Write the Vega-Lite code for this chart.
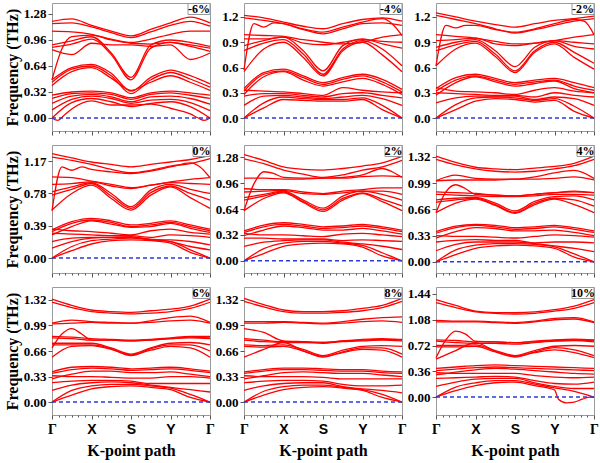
{
"$schema":"https://vega.github.io/schema/vega-lite/v6.json",
"padding":{"left":3,"top":1,"right":3,"bottom":2},
"background":"white",
"config":{
 "view":{"stroke":"#9a9a9a","strokeWidth":1},
 "axis":{"domain":false,"grid":false,"labelOverlap":false,"tickColor":"#555","labelColor":"#000","labelFont":"Liberation Serif","labelFontWeight":"bold","labelFontSize":13,"titleFont":"Liberation Serif","titleFontWeight":"bold","titleFontSize":16,"titleColor":"#000","labelPadding":2,"tickSize":4}
},
"datasets":{"d":[
{"p":1,"b":1,"x":0,"f":1.19},{"p":1,"b":1,"x":0.5,"f":1.22},{"p":1,"b":1,"x":1,"f":1.14},{"p":1,"b":1,"x":1.5,"f":1.07},{"p":1,"b":1,"x":2,"f":1.01},{"p":1,"b":1,"x":2.5,"f":1.09},{"p":1,"b":1,"x":3,"f":1.17},{"p":1,"b":1,"x":3.5,"f":1.24},{"p":1,"b":1,"x":4,"f":1.17},
{"p":1,"b":2,"x":0,"f":1.16},{"p":1,"b":2,"x":0.5,"f":1.17},{"p":1,"b":2,"x":1,"f":1.12},{"p":1,"b":2,"x":1.5,"f":1.05},{"p":1,"b":2,"x":2,"f":0.99},{"p":1,"b":2,"x":2.5,"f":1.06},{"p":1,"b":2,"x":3,"f":1.14},{"p":1,"b":2,"x":3.5,"f":1.19},{"p":1,"b":2,"x":4,"f":1.13},
{"p":1,"b":3,"x":0,"f":1.07},{"p":1,"b":3,"x":0.5,"f":1.06},{"p":1,"b":3,"x":1,"f":1.03},{"p":1,"b":3,"x":1.5,"f":0.97},{"p":1,"b":3,"x":2,"f":0.93},{"p":1,"b":3,"x":2.5,"f":0.97},{"p":1,"b":3,"x":3,"f":1.03},{"p":1,"b":3,"x":3.5,"f":1.07},{"p":1,"b":3,"x":4,"f":1.07},
{"p":1,"b":4,"x":0,"f":0.47},{"p":1,"b":4,"x":0.25,"f":0.85},{"p":1,"b":4,"x":0.5,"f":1.0},{"p":1,"b":4,"x":1,"f":1.02},{"p":1,"b":4,"x":1.5,"f":0.96},{"p":1,"b":4,"x":2,"f":0.92},{"p":1,"b":4,"x":2.5,"f":0.91},{"p":1,"b":4,"x":3,"f":0.93},{"p":1,"b":4,"x":3.5,"f":0.9},{"p":1,"b":4,"x":4,"f":0.86},
{"p":1,"b":5,"x":0,"f":0.9},{"p":1,"b":5,"x":0.5,"f":0.95},{"p":1,"b":5,"x":1,"f":1.0},{"p":1,"b":5,"x":1.5,"f":0.8},{"p":1,"b":5,"x":2,"f":0.5},{"p":1,"b":5,"x":2.5,"f":0.9},{"p":1,"b":5,"x":3,"f":0.96},{"p":1,"b":5,"x":3.5,"f":0.93},{"p":1,"b":5,"x":4,"f":0.88},
{"p":1,"b":6,"x":0,"f":0.87},{"p":1,"b":6,"x":0.5,"f":0.91},{"p":1,"b":6,"x":1,"f":0.97},{"p":1,"b":6,"x":1.5,"f":0.78},{"p":1,"b":6,"x":2,"f":0.47},{"p":1,"b":6,"x":2.5,"f":0.86},{"p":1,"b":6,"x":3,"f":0.93},{"p":1,"b":6,"x":3.5,"f":0.88},{"p":1,"b":6,"x":4,"f":0.82},
{"p":1,"b":7,"x":0,"f":0.84},{"p":1,"b":7,"x":0.5,"f":0.78},{"p":1,"b":7,"x":1,"f":0.92},{"p":1,"b":7,"x":1.5,"f":0.9},{"p":1,"b":7,"x":2,"f":0.9},{"p":1,"b":7,"x":2.5,"f":0.88},{"p":1,"b":7,"x":3,"f":0.9},{"p":1,"b":7,"x":3.5,"f":0.72},{"p":1,"b":7,"x":4,"f":0.8},
{"p":1,"b":8,"x":0,"f":0.47},{"p":1,"b":8,"x":0.5,"f":0.62},{"p":1,"b":8,"x":1,"f":0.66},{"p":1,"b":8,"x":1.5,"f":0.55},{"p":1,"b":8,"x":2,"f":0.33},{"p":1,"b":8,"x":2.5,"f":0.5},{"p":1,"b":8,"x":3,"f":0.59},{"p":1,"b":8,"x":3.5,"f":0.52},{"p":1,"b":8,"x":4,"f":0.42},
{"p":1,"b":9,"x":0,"f":0.44},{"p":1,"b":9,"x":0.5,"f":0.6},{"p":1,"b":9,"x":1,"f":0.64},{"p":1,"b":9,"x":1.5,"f":0.52},{"p":1,"b":9,"x":2,"f":0.3},{"p":1,"b":9,"x":2.5,"f":0.47},{"p":1,"b":9,"x":3,"f":0.56},{"p":1,"b":9,"x":3.5,"f":0.48},{"p":1,"b":9,"x":4,"f":0.38},
{"p":1,"b":10,"x":0,"f":0.4},{"p":1,"b":10,"x":0.5,"f":0.57},{"p":1,"b":10,"x":1,"f":0.62},{"p":1,"b":10,"x":1.5,"f":0.49},{"p":1,"b":10,"x":2,"f":0.34},{"p":1,"b":10,"x":2.5,"f":0.44},{"p":1,"b":10,"x":3,"f":0.52},{"p":1,"b":10,"x":3.5,"f":0.44},{"p":1,"b":10,"x":4,"f":0.34},
{"p":1,"b":11,"x":0,"f":0.28},{"p":1,"b":11,"x":0.5,"f":0.32},{"p":1,"b":11,"x":1,"f":0.33},{"p":1,"b":11,"x":1.5,"f":0.31},{"p":1,"b":11,"x":2,"f":0.25},{"p":1,"b":11,"x":2.5,"f":0.31},{"p":1,"b":11,"x":3,"f":0.33},{"p":1,"b":11,"x":3.5,"f":0.31},{"p":1,"b":11,"x":4,"f":0.28},
{"p":1,"b":12,"x":0,"f":0.24},{"p":1,"b":12,"x":0.5,"f":0.3},{"p":1,"b":12,"x":1,"f":0.31},{"p":1,"b":12,"x":1.5,"f":0.29},{"p":1,"b":12,"x":2,"f":0.23},{"p":1,"b":12,"x":2.5,"f":0.29},{"p":1,"b":12,"x":3,"f":0.31},{"p":1,"b":12,"x":3.5,"f":0.28},{"p":1,"b":12,"x":4,"f":0.24},
{"p":1,"b":13,"x":0,"f":0.18},{"p":1,"b":13,"x":0.5,"f":0.27},{"p":1,"b":13,"x":1,"f":0.29},{"p":1,"b":13,"x":1.5,"f":0.26},{"p":1,"b":13,"x":2,"f":0.2},{"p":1,"b":13,"x":2.5,"f":0.26},{"p":1,"b":13,"x":3,"f":0.27},{"p":1,"b":13,"x":3.5,"f":0.24},{"p":1,"b":13,"x":4,"f":0.17},
{"p":1,"b":14,"x":0,"f":0.1},{"p":1,"b":14,"x":0.5,"f":0.23},{"p":1,"b":14,"x":1,"f":0.27},{"p":1,"b":14,"x":1.5,"f":0.24},{"p":1,"b":14,"x":2,"f":0.18},{"p":1,"b":14,"x":2.5,"f":0.22},{"p":1,"b":14,"x":3,"f":0.23},{"p":1,"b":14,"x":3.5,"f":0.19},{"p":1,"b":14,"x":4,"f":0.09},
{"p":1,"b":15,"x":0,"f":0},{"p":1,"b":15,"x":0.5,"f":0.19},{"p":1,"b":15,"x":1,"f":0.24},{"p":1,"b":15,"x":1.5,"f":0.2},{"p":1,"b":15,"x":2,"f":0.14},{"p":1,"b":15,"x":2.5,"f":0.18},{"p":1,"b":15,"x":3,"f":0.2},{"p":1,"b":15,"x":3.5,"f":0.14},{"p":1,"b":15,"x":4,"f":0},
{"p":1,"b":16,"x":0,"f":0},{"p":1,"b":16,"x":0.15,"f":-0.03},{"p":1,"b":16,"x":0.3,"f":0.03},{"p":1,"b":16,"x":0.5,"f":0.11},{"p":1,"b":16,"x":1,"f":0.21},{"p":1,"b":16,"x":1.5,"f":0.16},{"p":1,"b":16,"x":2,"f":0.16},{"p":1,"b":16,"x":2.5,"f":0.17},{"p":1,"b":16,"x":3,"f":0.12},{"p":1,"b":16,"x":3.5,"f":0.05},{"p":1,"b":16,"x":3.7,"f":0},{"p":1,"b":16,"x":3.85,"f":-0.03},{"p":1,"b":16,"x":4,"f":0},

{"p":2,"b":1,"x":0,"f":1.22},{"p":2,"b":1,"x":0.5,"f":1.19},{"p":2,"b":1,"x":1,"f":1.14},{"p":2,"b":1,"x":1.5,"f":1.09},{"p":2,"b":1,"x":2,"f":1.06},{"p":2,"b":1,"x":2.5,"f":1.12},{"p":2,"b":1,"x":3,"f":1.17},{"p":2,"b":1,"x":3.5,"f":1.19},{"p":2,"b":1,"x":4,"f":1.15},
{"p":2,"b":2,"x":0,"f":1.19},{"p":2,"b":2,"x":0.5,"f":1.16},{"p":2,"b":2,"x":1,"f":1.12},{"p":2,"b":2,"x":1.5,"f":1.05},{"p":2,"b":2,"x":2,"f":1.0},{"p":2,"b":2,"x":2.5,"f":1.06},{"p":2,"b":2,"x":3,"f":1.12},{"p":2,"b":2,"x":3.5,"f":1.13},{"p":2,"b":2,"x":4,"f":1.1},
{"p":2,"b":3,"x":0,"f":0.57},{"p":2,"b":3,"x":0.25,"f":1.12},{"p":2,"b":3,"x":0.5,"f":1.08},{"p":2,"b":3,"x":0.75,"f":1.13},{"p":2,"b":3,"x":1,"f":1.12},{"p":2,"b":3,"x":1.5,"f":1.06},{"p":2,"b":3,"x":2,"f":1.02},{"p":2,"b":3,"x":2.5,"f":1.08},{"p":2,"b":3,"x":3,"f":1.14},{"p":2,"b":3,"x":3.5,"f":1.18},{"p":2,"b":3,"x":3.75,"f":1.12},{"p":2,"b":3,"x":4,"f":0.98},
{"p":2,"b":4,"x":0,"f":0.99},{"p":2,"b":4,"x":0.5,"f":0.98},{"p":2,"b":4,"x":1,"f":0.97},{"p":2,"b":4,"x":1.5,"f":0.93},{"p":2,"b":4,"x":2,"f":0.9},{"p":2,"b":4,"x":2.5,"f":0.88},{"p":2,"b":4,"x":3,"f":0.9},{"p":2,"b":4,"x":3.5,"f":0.96},{"p":2,"b":4,"x":4,"f":0.99},
{"p":2,"b":5,"x":0,"f":0.94},{"p":2,"b":5,"x":0.5,"f":0.94},{"p":2,"b":5,"x":1,"f":0.96},{"p":2,"b":5,"x":1.5,"f":0.89},{"p":2,"b":5,"x":2,"f":0.87},{"p":2,"b":5,"x":2.5,"f":0.9},{"p":2,"b":5,"x":3,"f":0.93},{"p":2,"b":5,"x":3.5,"f":0.91},{"p":2,"b":5,"x":4,"f":0.9},
{"p":2,"b":6,"x":0,"f":0.86},{"p":2,"b":6,"x":0.5,"f":0.92},{"p":2,"b":6,"x":1,"f":0.96},{"p":2,"b":6,"x":1.5,"f":0.8},{"p":2,"b":6,"x":2,"f":0.56},{"p":2,"b":6,"x":2.5,"f":0.86},{"p":2,"b":6,"x":3,"f":0.94},{"p":2,"b":6,"x":3.5,"f":0.88},{"p":2,"b":6,"x":4,"f":0.83},
{"p":2,"b":7,"x":0,"f":0.8},{"p":2,"b":7,"x":0.5,"f":0.89},{"p":2,"b":7,"x":1,"f":0.93},{"p":2,"b":7,"x":1.5,"f":0.76},{"p":2,"b":7,"x":2,"f":0.52},{"p":2,"b":7,"x":2.5,"f":0.82},{"p":2,"b":7,"x":3,"f":0.92},{"p":2,"b":7,"x":3.5,"f":0.82},{"p":2,"b":7,"x":4,"f":0.62},
{"p":2,"b":8,"x":0,"f":0.55},{"p":2,"b":8,"x":0.5,"f":0.82},{"p":2,"b":8,"x":1,"f":0.9},{"p":2,"b":8,"x":1.5,"f":0.72},{"p":2,"b":8,"x":2,"f":0.5},{"p":2,"b":8,"x":2.5,"f":0.8},{"p":2,"b":8,"x":3,"f":0.9},{"p":2,"b":8,"x":3.5,"f":0.75},{"p":2,"b":8,"x":4,"f":0.55},
{"p":2,"b":9,"x":0,"f":0.35},{"p":2,"b":9,"x":0.5,"f":0.54},{"p":2,"b":9,"x":1,"f":0.58},{"p":2,"b":9,"x":1.5,"f":0.5},{"p":2,"b":9,"x":2,"f":0.42},{"p":2,"b":9,"x":2.5,"f":0.48},{"p":2,"b":9,"x":3,"f":0.52},{"p":2,"b":9,"x":3.5,"f":0.46},{"p":2,"b":9,"x":4,"f":0.34},
{"p":2,"b":10,"x":0,"f":0.32},{"p":2,"b":10,"x":0.5,"f":0.52},{"p":2,"b":10,"x":1,"f":0.56},{"p":2,"b":10,"x":1.5,"f":0.48},{"p":2,"b":10,"x":2,"f":0.4},{"p":2,"b":10,"x":2.5,"f":0.46},{"p":2,"b":10,"x":3,"f":0.5},{"p":2,"b":10,"x":3.5,"f":0.43},{"p":2,"b":10,"x":4,"f":0.31},
{"p":2,"b":11,"x":0,"f":0.28},{"p":2,"b":11,"x":0.5,"f":0.49},{"p":2,"b":11,"x":1,"f":0.55},{"p":2,"b":11,"x":1.5,"f":0.45},{"p":2,"b":11,"x":2,"f":0.38},{"p":2,"b":11,"x":2.5,"f":0.43},{"p":2,"b":11,"x":3,"f":0.47},{"p":2,"b":11,"x":3.5,"f":0.4},{"p":2,"b":11,"x":4,"f":0.28},
{"p":2,"b":12,"x":0,"f":0.33},{"p":2,"b":12,"x":0.5,"f":0.32},{"p":2,"b":12,"x":1,"f":0.31},{"p":2,"b":12,"x":1.5,"f":0.29},{"p":2,"b":12,"x":2,"f":0.27},{"p":2,"b":12,"x":2.5,"f":0.36},{"p":2,"b":12,"x":3,"f":0.33},{"p":2,"b":12,"x":3.5,"f":0.31},{"p":2,"b":12,"x":4,"f":0.3},
{"p":2,"b":13,"x":0,"f":0.26},{"p":2,"b":13,"x":0.5,"f":0.29},{"p":2,"b":13,"x":1,"f":0.29},{"p":2,"b":13,"x":1.5,"f":0.27},{"p":2,"b":13,"x":2,"f":0.25},{"p":2,"b":13,"x":2.5,"f":0.29},{"p":2,"b":13,"x":3,"f":0.3},{"p":2,"b":13,"x":3.5,"f":0.27},{"p":2,"b":13,"x":4,"f":0.24},
{"p":2,"b":14,"x":0,"f":0.15},{"p":2,"b":14,"x":0.5,"f":0.26},{"p":2,"b":14,"x":1,"f":0.27},{"p":2,"b":14,"x":1.5,"f":0.25},{"p":2,"b":14,"x":2,"f":0.23},{"p":2,"b":14,"x":2.5,"f":0.25},{"p":2,"b":14,"x":3,"f":0.27},{"p":2,"b":14,"x":3.5,"f":0.23},{"p":2,"b":14,"x":4,"f":0.15},
{"p":2,"b":15,"x":0,"f":0},{"p":2,"b":15,"x":0.5,"f":0.18},{"p":2,"b":15,"x":1,"f":0.25},{"p":2,"b":15,"x":1.5,"f":0.23},{"p":2,"b":15,"x":2,"f":0.22},{"p":2,"b":15,"x":2.5,"f":0.22},{"p":2,"b":15,"x":3,"f":0.24},{"p":2,"b":15,"x":3.5,"f":0.15},{"p":2,"b":15,"x":4,"f":0},
{"p":2,"b":16,"x":0,"f":0},{"p":2,"b":16,"x":0.5,"f":0.12},{"p":2,"b":16,"x":1,"f":0.22},{"p":2,"b":16,"x":1.5,"f":0.21},{"p":2,"b":16,"x":2,"f":0.2},{"p":2,"b":16,"x":2.5,"f":0.2},{"p":2,"b":16,"x":3,"f":0.22},{"p":2,"b":16,"x":3.5,"f":0.1},{"p":2,"b":16,"x":4,"f":0},

{"p":3,"b":1,"x":0,"f":1.25},{"p":3,"b":1,"x":0.5,"f":1.2},{"p":3,"b":1,"x":1,"f":1.15},{"p":3,"b":1,"x":1.5,"f":1.11},{"p":3,"b":1,"x":2,"f":1.08},{"p":3,"b":1,"x":2.5,"f":1.12},{"p":3,"b":1,"x":3,"f":1.16},{"p":3,"b":1,"x":3.5,"f":1.18},{"p":3,"b":1,"x":4,"f":1.21},
{"p":3,"b":2,"x":0,"f":1.22},{"p":3,"b":2,"x":0.5,"f":1.17},{"p":3,"b":2,"x":1,"f":1.12},{"p":3,"b":2,"x":1.5,"f":1.06},{"p":3,"b":2,"x":2,"f":1.01},{"p":3,"b":2,"x":2.5,"f":1.05},{"p":3,"b":2,"x":3,"f":1.1},{"p":3,"b":2,"x":3.5,"f":1.15},{"p":3,"b":2,"x":4,"f":1.18},
{"p":3,"b":3,"x":0,"f":0.62},{"p":3,"b":3,"x":0.25,"f":1.1},{"p":3,"b":3,"x":0.5,"f":1.07},{"p":3,"b":3,"x":0.75,"f":1.1},{"p":3,"b":3,"x":1,"f":1.1},{"p":3,"b":3,"x":1.5,"f":1.05},{"p":3,"b":3,"x":2,"f":1.02},{"p":3,"b":3,"x":2.5,"f":1.06},{"p":3,"b":3,"x":3,"f":1.12},{"p":3,"b":3,"x":3.5,"f":1.17},{"p":3,"b":3,"x":3.75,"f":1.15},{"p":3,"b":3,"x":4,"f":0.99},
{"p":3,"b":4,"x":0,"f":0.99},{"p":3,"b":4,"x":0.5,"f":0.97},{"p":3,"b":4,"x":1,"f":0.95},{"p":3,"b":4,"x":1.5,"f":0.91},{"p":3,"b":4,"x":2,"f":0.88},{"p":3,"b":4,"x":2.5,"f":0.89},{"p":3,"b":4,"x":3,"f":0.92},{"p":3,"b":4,"x":3.5,"f":0.96},{"p":3,"b":4,"x":4,"f":0.99},
{"p":3,"b":5,"x":0,"f":0.92},{"p":3,"b":5,"x":0.5,"f":0.93},{"p":3,"b":5,"x":1,"f":0.95},{"p":3,"b":5,"x":1.5,"f":0.88},{"p":3,"b":5,"x":2,"f":0.86},{"p":3,"b":5,"x":2.5,"f":0.89},{"p":3,"b":5,"x":3,"f":0.92},{"p":3,"b":5,"x":3.5,"f":0.9},{"p":3,"b":5,"x":4,"f":0.88},
{"p":3,"b":6,"x":0,"f":0.84},{"p":3,"b":6,"x":0.5,"f":0.9},{"p":3,"b":6,"x":1,"f":0.93},{"p":3,"b":6,"x":1.5,"f":0.8},{"p":3,"b":6,"x":2,"f":0.61},{"p":3,"b":6,"x":2.5,"f":0.84},{"p":3,"b":6,"x":3,"f":0.92},{"p":3,"b":6,"x":3.5,"f":0.85},{"p":3,"b":6,"x":4,"f":0.82},
{"p":3,"b":7,"x":0,"f":0.8},{"p":3,"b":7,"x":0.5,"f":0.87},{"p":3,"b":7,"x":1,"f":0.91},{"p":3,"b":7,"x":1.5,"f":0.76},{"p":3,"b":7,"x":2,"f":0.56},{"p":3,"b":7,"x":2.5,"f":0.8},{"p":3,"b":7,"x":3,"f":0.9},{"p":3,"b":7,"x":3.5,"f":0.78},{"p":3,"b":7,"x":4,"f":0.65},
{"p":3,"b":8,"x":0,"f":0.62},{"p":3,"b":8,"x":0.5,"f":0.82},{"p":3,"b":8,"x":1,"f":0.89},{"p":3,"b":8,"x":1.5,"f":0.73},{"p":3,"b":8,"x":2,"f":0.54},{"p":3,"b":8,"x":2.5,"f":0.78},{"p":3,"b":8,"x":3,"f":0.88},{"p":3,"b":8,"x":3.5,"f":0.72},{"p":3,"b":8,"x":4,"f":0.58},
{"p":3,"b":9,"x":0,"f":0.35},{"p":3,"b":9,"x":0.5,"f":0.48},{"p":3,"b":9,"x":1,"f":0.52},{"p":3,"b":9,"x":1.5,"f":0.47},{"p":3,"b":9,"x":2,"f":0.42},{"p":3,"b":9,"x":2.5,"f":0.45},{"p":3,"b":9,"x":3,"f":0.47},{"p":3,"b":9,"x":3.5,"f":0.42},{"p":3,"b":9,"x":4,"f":0.36},
{"p":3,"b":10,"x":0,"f":0.32},{"p":3,"b":10,"x":0.5,"f":0.45},{"p":3,"b":10,"x":1,"f":0.5},{"p":3,"b":10,"x":1.5,"f":0.45},{"p":3,"b":10,"x":2,"f":0.4},{"p":3,"b":10,"x":2.5,"f":0.43},{"p":3,"b":10,"x":3,"f":0.45},{"p":3,"b":10,"x":3.5,"f":0.38},{"p":3,"b":10,"x":4,"f":0.33},
{"p":3,"b":11,"x":0,"f":0.27},{"p":3,"b":11,"x":0.5,"f":0.42},{"p":3,"b":11,"x":1,"f":0.49},{"p":3,"b":11,"x":1.5,"f":0.43},{"p":3,"b":11,"x":2,"f":0.38},{"p":3,"b":11,"x":2.5,"f":0.41},{"p":3,"b":11,"x":3,"f":0.44},{"p":3,"b":11,"x":3.5,"f":0.35},{"p":3,"b":11,"x":4,"f":0.3},
{"p":3,"b":12,"x":0,"f":0.36},{"p":3,"b":12,"x":0.5,"f":0.32},{"p":3,"b":12,"x":1,"f":0.31},{"p":3,"b":12,"x":1.5,"f":0.3},{"p":3,"b":12,"x":2,"f":0.28},{"p":3,"b":12,"x":2.5,"f":0.33},{"p":3,"b":12,"x":3,"f":0.36},{"p":3,"b":12,"x":3.5,"f":0.32},{"p":3,"b":12,"x":4,"f":0.3},
{"p":3,"b":13,"x":0,"f":0.3},{"p":3,"b":13,"x":0.5,"f":0.29},{"p":3,"b":13,"x":1,"f":0.28},{"p":3,"b":13,"x":1.5,"f":0.27},{"p":3,"b":13,"x":2,"f":0.27},{"p":3,"b":13,"x":2.5,"f":0.25},{"p":3,"b":13,"x":3,"f":0.3},{"p":3,"b":13,"x":3.5,"f":0.27},{"p":3,"b":13,"x":4,"f":0.25},
{"p":3,"b":14,"x":0,"f":0.18},{"p":3,"b":14,"x":0.5,"f":0.24},{"p":3,"b":14,"x":1,"f":0.26},{"p":3,"b":14,"x":1.5,"f":0.26},{"p":3,"b":14,"x":2,"f":0.26},{"p":3,"b":14,"x":2.5,"f":0.22},{"p":3,"b":14,"x":3,"f":0.25},{"p":3,"b":14,"x":3.5,"f":0.23},{"p":3,"b":14,"x":4,"f":0.15},
{"p":3,"b":15,"x":0,"f":0},{"p":3,"b":15,"x":0.5,"f":0.16},{"p":3,"b":15,"x":1,"f":0.24},{"p":3,"b":15,"x":1.5,"f":0.25},{"p":3,"b":15,"x":2,"f":0.24},{"p":3,"b":15,"x":2.5,"f":0.21},{"p":3,"b":15,"x":3,"f":0.23},{"p":3,"b":15,"x":3.5,"f":0.14},{"p":3,"b":15,"x":4,"f":0},
{"p":3,"b":16,"x":0,"f":0},{"p":3,"b":16,"x":0.5,"f":0.1},{"p":3,"b":16,"x":1,"f":0.2},{"p":3,"b":16,"x":1.5,"f":0.23},{"p":3,"b":16,"x":2,"f":0.22},{"p":3,"b":16,"x":2.5,"f":0.19},{"p":3,"b":16,"x":3,"f":0.21},{"p":3,"b":16,"x":3.5,"f":0.08},{"p":3,"b":16,"x":4,"f":0},

{"p":4,"b":1,"x":0,"f":1.26},{"p":4,"b":1,"x":0.5,"f":1.21},{"p":4,"b":1,"x":1,"f":1.16},{"p":4,"b":1,"x":1.5,"f":1.13},{"p":4,"b":1,"x":2,"f":1.1},{"p":4,"b":1,"x":2.5,"f":1.13},{"p":4,"b":1,"x":3,"f":1.16},{"p":4,"b":1,"x":3.5,"f":1.19},{"p":4,"b":1,"x":4,"f":1.24},
{"p":4,"b":2,"x":0,"f":1.22},{"p":4,"b":2,"x":0.5,"f":1.18},{"p":4,"b":2,"x":1,"f":1.13},{"p":4,"b":2,"x":1.5,"f":1.07},{"p":4,"b":2,"x":2,"f":1.03},{"p":4,"b":2,"x":2.5,"f":1.06},{"p":4,"b":2,"x":3,"f":1.11},{"p":4,"b":2,"x":3.5,"f":1.14},{"p":4,"b":2,"x":4,"f":1.2},
{"p":4,"b":3,"x":0,"f":0.57},{"p":4,"b":3,"x":0.25,"f":1.1},{"p":4,"b":3,"x":0.5,"f":1.06},{"p":4,"b":3,"x":0.75,"f":1.1},{"p":4,"b":3,"x":1,"f":1.07},{"p":4,"b":3,"x":1.5,"f":1.04},{"p":4,"b":3,"x":2,"f":1.02},{"p":4,"b":3,"x":2.5,"f":1.05},{"p":4,"b":3,"x":3,"f":1.1},{"p":4,"b":3,"x":3.5,"f":1.15},{"p":4,"b":3,"x":3.75,"f":1.1},{"p":4,"b":3,"x":4,"f":0.97},
{"p":4,"b":4,"x":0,"f":0.98},{"p":4,"b":4,"x":0.5,"f":0.97},{"p":4,"b":4,"x":1,"f":0.93},{"p":4,"b":4,"x":1.5,"f":0.89},{"p":4,"b":4,"x":2,"f":0.85},{"p":4,"b":4,"x":2.5,"f":0.88},{"p":4,"b":4,"x":3,"f":0.92},{"p":4,"b":4,"x":3.5,"f":0.95},{"p":4,"b":4,"x":4,"f":0.97},
{"p":4,"b":5,"x":0,"f":0.89},{"p":4,"b":5,"x":0.5,"f":0.9},{"p":4,"b":5,"x":1,"f":0.92},{"p":4,"b":5,"x":1.5,"f":0.87},{"p":4,"b":5,"x":2,"f":0.84},{"p":4,"b":5,"x":2.5,"f":0.88},{"p":4,"b":5,"x":3,"f":0.91},{"p":4,"b":5,"x":3.5,"f":0.9},{"p":4,"b":5,"x":4,"f":0.89},
{"p":4,"b":6,"x":0,"f":0.8},{"p":4,"b":6,"x":0.5,"f":0.86},{"p":4,"b":6,"x":1,"f":0.91},{"p":4,"b":6,"x":1.5,"f":0.78},{"p":4,"b":6,"x":2,"f":0.62},{"p":4,"b":6,"x":2.5,"f":0.82},{"p":4,"b":6,"x":3,"f":0.89},{"p":4,"b":6,"x":3.5,"f":0.83},{"p":4,"b":6,"x":4,"f":0.78},
{"p":4,"b":7,"x":0,"f":0.76},{"p":4,"b":7,"x":0.5,"f":0.83},{"p":4,"b":7,"x":1,"f":0.9},{"p":4,"b":7,"x":1.5,"f":0.75},{"p":4,"b":7,"x":2,"f":0.6},{"p":4,"b":7,"x":2.5,"f":0.79},{"p":4,"b":7,"x":3,"f":0.87},{"p":4,"b":7,"x":3.5,"f":0.78},{"p":4,"b":7,"x":4,"f":0.7},
{"p":4,"b":8,"x":0,"f":0.58},{"p":4,"b":8,"x":0.5,"f":0.78},{"p":4,"b":8,"x":1,"f":0.88},{"p":4,"b":8,"x":1.5,"f":0.72},{"p":4,"b":8,"x":2,"f":0.58},{"p":4,"b":8,"x":2.5,"f":0.76},{"p":4,"b":8,"x":3,"f":0.86},{"p":4,"b":8,"x":3.5,"f":0.73},{"p":4,"b":8,"x":4,"f":0.6},
{"p":4,"b":9,"x":0,"f":0.34},{"p":4,"b":9,"x":0.5,"f":0.44},{"p":4,"b":9,"x":1,"f":0.48},{"p":4,"b":9,"x":1.5,"f":0.45},{"p":4,"b":9,"x":2,"f":0.4},{"p":4,"b":9,"x":2.5,"f":0.42},{"p":4,"b":9,"x":3,"f":0.45},{"p":4,"b":9,"x":3.5,"f":0.4},{"p":4,"b":9,"x":4,"f":0.35},
{"p":4,"b":10,"x":0,"f":0.32},{"p":4,"b":10,"x":0.5,"f":0.42},{"p":4,"b":10,"x":1,"f":0.46},{"p":4,"b":10,"x":1.5,"f":0.43},{"p":4,"b":10,"x":2,"f":0.38},{"p":4,"b":10,"x":2.5,"f":0.4},{"p":4,"b":10,"x":3,"f":0.43},{"p":4,"b":10,"x":3.5,"f":0.38},{"p":4,"b":10,"x":4,"f":0.33},
{"p":4,"b":11,"x":0,"f":0.28},{"p":4,"b":11,"x":0.5,"f":0.38},{"p":4,"b":11,"x":1,"f":0.45},{"p":4,"b":11,"x":1.5,"f":0.41},{"p":4,"b":11,"x":2,"f":0.37},{"p":4,"b":11,"x":2.5,"f":0.38},{"p":4,"b":11,"x":3,"f":0.42},{"p":4,"b":11,"x":3.5,"f":0.36},{"p":4,"b":11,"x":4,"f":0.31},
{"p":4,"b":12,"x":0,"f":0.35},{"p":4,"b":12,"x":0.5,"f":0.33},{"p":4,"b":12,"x":1,"f":0.32},{"p":4,"b":12,"x":1.5,"f":0.3},{"p":4,"b":12,"x":2,"f":0.28},{"p":4,"b":12,"x":2.5,"f":0.33},{"p":4,"b":12,"x":3,"f":0.35},{"p":4,"b":12,"x":3.5,"f":0.31},{"p":4,"b":12,"x":4,"f":0.29},
{"p":4,"b":13,"x":0,"f":0.3},{"p":4,"b":13,"x":0.5,"f":0.29},{"p":4,"b":13,"x":1,"f":0.28},{"p":4,"b":13,"x":1.5,"f":0.27},{"p":4,"b":13,"x":2,"f":0.27},{"p":4,"b":13,"x":2.5,"f":0.25},{"p":4,"b":13,"x":3,"f":0.28},{"p":4,"b":13,"x":3.5,"f":0.27},{"p":4,"b":13,"x":4,"f":0.25},
{"p":4,"b":14,"x":0,"f":0.2},{"p":4,"b":14,"x":0.5,"f":0.24},{"p":4,"b":14,"x":1,"f":0.25},{"p":4,"b":14,"x":1.5,"f":0.25},{"p":4,"b":14,"x":2,"f":0.26},{"p":4,"b":14,"x":2.5,"f":0.22},{"p":4,"b":14,"x":3,"f":0.22},{"p":4,"b":14,"x":3.5,"f":0.2},{"p":4,"b":14,"x":4,"f":0.16},
{"p":4,"b":15,"x":0,"f":0.12},{"p":4,"b":15,"x":0.5,"f":0.2},{"p":4,"b":15,"x":1,"f":0.24},{"p":4,"b":15,"x":1.5,"f":0.25},{"p":4,"b":15,"x":2,"f":0.25},{"p":4,"b":15,"x":2.5,"f":0.23},{"p":4,"b":15,"x":3,"f":0.2},{"p":4,"b":15,"x":3.5,"f":0.14},{"p":4,"b":15,"x":4,"f":0.1},
{"p":4,"b":16,"x":0,"f":0},{"p":4,"b":16,"x":0.5,"f":0.14},{"p":4,"b":16,"x":1,"f":0.21},{"p":4,"b":16,"x":1.5,"f":0.23},{"p":4,"b":16,"x":2,"f":0.24},{"p":4,"b":16,"x":2.5,"f":0.22},{"p":4,"b":16,"x":3,"f":0.2},{"p":4,"b":16,"x":3.5,"f":0.1},{"p":4,"b":16,"x":4,"f":0},
{"p":4,"b":17,"x":0,"f":0},{"p":4,"b":17,"x":0.5,"f":0.09},{"p":4,"b":17,"x":1,"f":0.17},{"p":4,"b":17,"x":1.5,"f":0.21},{"p":4,"b":17,"x":2,"f":0.22},{"p":4,"b":17,"x":2.5,"f":0.21},{"p":4,"b":17,"x":3,"f":0.18},{"p":4,"b":17,"x":3.5,"f":0.07},{"p":4,"b":17,"x":4,"f":0},

{"p":5,"b":1,"x":0,"f":1.31},{"p":5,"b":1,"x":0.5,"f":1.24},{"p":5,"b":1,"x":1,"f":1.16},{"p":5,"b":1,"x":1.5,"f":1.13},{"p":5,"b":1,"x":2,"f":1.12},{"p":5,"b":1,"x":2.5,"f":1.14},{"p":5,"b":1,"x":3,"f":1.17},{"p":5,"b":1,"x":3.5,"f":1.21},{"p":5,"b":1,"x":4,"f":1.29},
{"p":5,"b":2,"x":0,"f":1.26},{"p":5,"b":2,"x":0.5,"f":1.2},{"p":5,"b":2,"x":1,"f":1.12},{"p":5,"b":2,"x":1.5,"f":1.07},{"p":5,"b":2,"x":2,"f":1.03},{"p":5,"b":2,"x":2.5,"f":1.06},{"p":5,"b":2,"x":3,"f":1.12},{"p":5,"b":2,"x":3.5,"f":1.16},{"p":5,"b":2,"x":4,"f":1.24},
{"p":5,"b":3,"x":0,"f":0.62},{"p":5,"b":3,"x":0.25,"f":0.95},{"p":5,"b":3,"x":0.5,"f":1.1},{"p":5,"b":3,"x":0.75,"f":1.08},{"p":5,"b":3,"x":1,"f":1.03},{"p":5,"b":3,"x":1.5,"f":1.02},{"p":5,"b":3,"x":2,"f":1.02},{"p":5,"b":3,"x":2.5,"f":1.03},{"p":5,"b":3,"x":3,"f":1.06},{"p":5,"b":3,"x":3.5,"f":1.14},{"p":5,"b":3,"x":3.75,"f":1.1},{"p":5,"b":3,"x":4,"f":1.03},
{"p":5,"b":4,"x":0,"f":1.02},{"p":5,"b":4,"x":0.5,"f":1.02},{"p":5,"b":4,"x":1,"f":1.01},{"p":5,"b":4,"x":1.5,"f":1.01},{"p":5,"b":4,"x":2,"f":1.02},{"p":5,"b":4,"x":2.5,"f":1.02},{"p":5,"b":4,"x":3,"f":1.04},{"p":5,"b":4,"x":3.5,"f":1.05},{"p":5,"b":4,"x":4,"f":1.04},
{"p":5,"b":5,"x":0,"f":0.89},{"p":5,"b":5,"x":0.5,"f":0.88},{"p":5,"b":5,"x":1,"f":0.88},{"p":5,"b":5,"x":1.5,"f":0.85},{"p":5,"b":5,"x":2,"f":0.83},{"p":5,"b":5,"x":2.5,"f":0.86},{"p":5,"b":5,"x":3,"f":0.88},{"p":5,"b":5,"x":3.5,"f":0.9},{"p":5,"b":5,"x":4,"f":0.9},
{"p":5,"b":6,"x":0,"f":0.85},{"p":5,"b":6,"x":0.5,"f":0.86},{"p":5,"b":6,"x":1,"f":0.87},{"p":5,"b":6,"x":1.5,"f":0.83},{"p":5,"b":6,"x":2,"f":0.82},{"p":5,"b":6,"x":2.5,"f":0.84},{"p":5,"b":6,"x":3,"f":0.86},{"p":5,"b":6,"x":3.5,"f":0.86},{"p":5,"b":6,"x":4,"f":0.82},
{"p":5,"b":7,"x":0,"f":0.78},{"p":5,"b":7,"x":0.5,"f":0.82},{"p":5,"b":7,"x":1,"f":0.86},{"p":5,"b":7,"x":1.5,"f":0.75},{"p":5,"b":7,"x":2,"f":0.65},{"p":5,"b":7,"x":2.5,"f":0.8},{"p":5,"b":7,"x":3,"f":0.86},{"p":5,"b":7,"x":3.5,"f":0.82},{"p":5,"b":7,"x":4,"f":0.75},
{"p":5,"b":8,"x":0,"f":0.75},{"p":5,"b":8,"x":0.5,"f":0.8},{"p":5,"b":8,"x":1,"f":0.85},{"p":5,"b":8,"x":1.5,"f":0.73},{"p":5,"b":8,"x":2,"f":0.63},{"p":5,"b":8,"x":2.5,"f":0.77},{"p":5,"b":8,"x":3,"f":0.84},{"p":5,"b":8,"x":3.5,"f":0.76},{"p":5,"b":8,"x":4,"f":0.68},
{"p":5,"b":9,"x":0,"f":0.62},{"p":5,"b":9,"x":0.5,"f":0.77},{"p":5,"b":9,"x":1,"f":0.84},{"p":5,"b":9,"x":1.5,"f":0.72},{"p":5,"b":9,"x":2,"f":0.61},{"p":5,"b":9,"x":2.5,"f":0.75},{"p":5,"b":9,"x":3,"f":0.83},{"p":5,"b":9,"x":3.5,"f":0.73},{"p":5,"b":9,"x":4,"f":0.62},
{"p":5,"b":10,"x":0,"f":0.37},{"p":5,"b":10,"x":0.5,"f":0.44},{"p":5,"b":10,"x":1,"f":0.47},{"p":5,"b":10,"x":1.5,"f":0.45},{"p":5,"b":10,"x":2,"f":0.42},{"p":5,"b":10,"x":2.5,"f":0.43},{"p":5,"b":10,"x":3,"f":0.45},{"p":5,"b":10,"x":3.5,"f":0.42},{"p":5,"b":10,"x":4,"f":0.38},
{"p":5,"b":11,"x":0,"f":0.35},{"p":5,"b":11,"x":0.5,"f":0.42},{"p":5,"b":11,"x":1,"f":0.45},{"p":5,"b":11,"x":1.5,"f":0.43},{"p":5,"b":11,"x":2,"f":0.4},{"p":5,"b":11,"x":2.5,"f":0.41},{"p":5,"b":11,"x":3,"f":0.43},{"p":5,"b":11,"x":3.5,"f":0.4},{"p":5,"b":11,"x":4,"f":0.36},
{"p":5,"b":12,"x":0,"f":0.31},{"p":5,"b":12,"x":0.5,"f":0.38},{"p":5,"b":12,"x":1,"f":0.43},{"p":5,"b":12,"x":1.5,"f":0.41},{"p":5,"b":12,"x":2,"f":0.38},{"p":5,"b":12,"x":2.5,"f":0.38},{"p":5,"b":12,"x":3,"f":0.4},{"p":5,"b":12,"x":3.5,"f":0.37},{"p":5,"b":12,"x":4,"f":0.33},
{"p":5,"b":13,"x":0,"f":0.34},{"p":5,"b":13,"x":0.5,"f":0.32},{"p":5,"b":13,"x":1,"f":0.32},{"p":5,"b":13,"x":1.5,"f":0.31},{"p":5,"b":13,"x":2,"f":0.3},{"p":5,"b":13,"x":2.5,"f":0.33},{"p":5,"b":13,"x":3,"f":0.34},{"p":5,"b":13,"x":3.5,"f":0.32},{"p":5,"b":13,"x":4,"f":0.3},
{"p":5,"b":14,"x":0,"f":0.28},{"p":5,"b":14,"x":0.5,"f":0.28},{"p":5,"b":14,"x":1,"f":0.27},{"p":5,"b":14,"x":1.5,"f":0.27},{"p":5,"b":14,"x":2,"f":0.27},{"p":5,"b":14,"x":2.5,"f":0.25},{"p":5,"b":14,"x":3,"f":0.26},{"p":5,"b":14,"x":3.5,"f":0.25},{"p":5,"b":14,"x":4,"f":0.24},
{"p":5,"b":15,"x":0,"f":0.18},{"p":5,"b":15,"x":0.5,"f":0.23},{"p":5,"b":15,"x":1,"f":0.25},{"p":5,"b":15,"x":1.5,"f":0.26},{"p":5,"b":15,"x":2,"f":0.26},{"p":5,"b":15,"x":2.5,"f":0.23},{"p":5,"b":15,"x":3,"f":0.21},{"p":5,"b":15,"x":3.5,"f":0.18},{"p":5,"b":15,"x":4,"f":0.14},
{"p":5,"b":16,"x":0,"f":0},{"p":5,"b":16,"x":0.5,"f":0.15},{"p":5,"b":16,"x":1,"f":0.22},{"p":5,"b":16,"x":1.5,"f":0.24},{"p":5,"b":16,"x":2,"f":0.24},{"p":5,"b":16,"x":2.5,"f":0.22},{"p":5,"b":16,"x":3,"f":0.19},{"p":5,"b":16,"x":3.5,"f":0.1},{"p":5,"b":16,"x":4,"f":0},
{"p":5,"b":17,"x":0,"f":0},{"p":5,"b":17,"x":0.5,"f":0.09},{"p":5,"b":17,"x":1,"f":0.18},{"p":5,"b":17,"x":1.5,"f":0.21},{"p":5,"b":17,"x":2,"f":0.22},{"p":5,"b":17,"x":2.5,"f":0.21},{"p":5,"b":17,"x":3,"f":0.17},{"p":5,"b":17,"x":3.5,"f":0.06},{"p":5,"b":17,"x":4,"f":0},

{"p":6,"b":1,"x":0,"f":1.33},{"p":6,"b":1,"x":0.5,"f":1.25},{"p":6,"b":1,"x":1,"f":1.19},{"p":6,"b":1,"x":1.5,"f":1.17},{"p":6,"b":1,"x":2,"f":1.16},{"p":6,"b":1,"x":2.5,"f":1.18},{"p":6,"b":1,"x":3,"f":1.2},{"p":6,"b":1,"x":3.5,"f":1.24},{"p":6,"b":1,"x":4,"f":1.33},
{"p":6,"b":2,"x":0,"f":1.29},{"p":6,"b":2,"x":0.5,"f":1.22},{"p":6,"b":2,"x":1,"f":1.17},{"p":6,"b":2,"x":1.5,"f":1.14},{"p":6,"b":2,"x":2,"f":1.13},{"p":6,"b":2,"x":2.5,"f":1.14},{"p":6,"b":2,"x":3,"f":1.17},{"p":6,"b":2,"x":3.5,"f":1.21},{"p":6,"b":2,"x":4,"f":1.29},
{"p":6,"b":3,"x":0,"f":1.02},{"p":6,"b":3,"x":0.5,"f":1.09},{"p":6,"b":3,"x":1,"f":1.05},{"p":6,"b":3,"x":1.5,"f":1.04},{"p":6,"b":3,"x":2,"f":1.04},{"p":6,"b":3,"x":2.5,"f":1.07},{"p":6,"b":3,"x":3,"f":1.12},{"p":6,"b":3,"x":3.5,"f":1.15},{"p":6,"b":3,"x":4,"f":1.05},
{"p":6,"b":4,"x":0,"f":1.02},{"p":6,"b":4,"x":0.5,"f":1.03},{"p":6,"b":4,"x":1,"f":1.03},{"p":6,"b":4,"x":1.5,"f":1.03},{"p":6,"b":4,"x":2,"f":1.04},{"p":6,"b":4,"x":2.5,"f":1.04},{"p":6,"b":4,"x":3,"f":1.05},{"p":6,"b":4,"x":3.5,"f":1.07},{"p":6,"b":4,"x":4,"f":1.03},
{"p":6,"b":5,"x":0,"f":0.62},{"p":6,"b":5,"x":0.25,"f":0.88},{"p":6,"b":5,"x":0.5,"f":0.97},{"p":6,"b":5,"x":0.75,"f":0.92},{"p":6,"b":5,"x":1,"f":0.85},{"p":6,"b":5,"x":1.5,"f":0.84},{"p":6,"b":5,"x":2,"f":0.83},{"p":6,"b":5,"x":2.5,"f":0.85},{"p":6,"b":5,"x":3,"f":0.87},{"p":6,"b":5,"x":3.5,"f":0.89},{"p":6,"b":5,"x":4,"f":0.87},
{"p":6,"b":6,"x":0,"f":0.88},{"p":6,"b":6,"x":0.5,"f":0.87},{"p":6,"b":6,"x":1,"f":0.86},{"p":6,"b":6,"x":1.5,"f":0.84},{"p":6,"b":6,"x":2,"f":0.83},{"p":6,"b":6,"x":2.5,"f":0.85},{"p":6,"b":6,"x":3,"f":0.87},{"p":6,"b":6,"x":3.5,"f":0.88},{"p":6,"b":6,"x":4,"f":0.87},
{"p":6,"b":7,"x":0,"f":0.85},{"p":6,"b":7,"x":0.5,"f":0.84},{"p":6,"b":7,"x":1,"f":0.83},{"p":6,"b":7,"x":1.5,"f":0.82},{"p":6,"b":7,"x":2,"f":0.82},{"p":6,"b":7,"x":2.5,"f":0.83},{"p":6,"b":7,"x":3,"f":0.85},{"p":6,"b":7,"x":3.5,"f":0.85},{"p":6,"b":7,"x":4,"f":0.84},
{"p":6,"b":8,"x":0,"f":0.78},{"p":6,"b":8,"x":0.5,"f":0.8},{"p":6,"b":8,"x":1,"f":0.81},{"p":6,"b":8,"x":1.5,"f":0.74},{"p":6,"b":8,"x":2,"f":0.64},{"p":6,"b":8,"x":2.5,"f":0.76},{"p":6,"b":8,"x":3,"f":0.82},{"p":6,"b":8,"x":3.5,"f":0.83},{"p":6,"b":8,"x":4,"f":0.78},
{"p":6,"b":9,"x":0,"f":0.75},{"p":6,"b":9,"x":0.5,"f":0.78},{"p":6,"b":9,"x":1,"f":0.8},{"p":6,"b":9,"x":1.5,"f":0.72},{"p":6,"b":9,"x":2,"f":0.62},{"p":6,"b":9,"x":2.5,"f":0.74},{"p":6,"b":9,"x":3,"f":0.8},{"p":6,"b":9,"x":3.5,"f":0.78},{"p":6,"b":9,"x":4,"f":0.7},
{"p":6,"b":10,"x":0,"f":0.62},{"p":6,"b":10,"x":0.5,"f":0.74},{"p":6,"b":10,"x":1,"f":0.79},{"p":6,"b":10,"x":1.5,"f":0.71},{"p":6,"b":10,"x":2,"f":0.61},{"p":6,"b":10,"x":2.5,"f":0.72},{"p":6,"b":10,"x":3,"f":0.79},{"p":6,"b":10,"x":3.5,"f":0.72},{"p":6,"b":10,"x":4,"f":0.62},
{"p":6,"b":11,"x":0,"f":0.38},{"p":6,"b":11,"x":0.5,"f":0.45},{"p":6,"b":11,"x":1,"f":0.47},{"p":6,"b":11,"x":1.5,"f":0.46},{"p":6,"b":11,"x":2,"f":0.43},{"p":6,"b":11,"x":2.5,"f":0.44},{"p":6,"b":11,"x":3,"f":0.46},{"p":6,"b":11,"x":3.5,"f":0.43},{"p":6,"b":11,"x":4,"f":0.39},
{"p":6,"b":12,"x":0,"f":0.36},{"p":6,"b":12,"x":0.5,"f":0.43},{"p":6,"b":12,"x":1,"f":0.46},{"p":6,"b":12,"x":1.5,"f":0.44},{"p":6,"b":12,"x":2,"f":0.41},{"p":6,"b":12,"x":2.5,"f":0.42},{"p":6,"b":12,"x":3,"f":0.44},{"p":6,"b":12,"x":3.5,"f":0.41},{"p":6,"b":12,"x":4,"f":0.37},
{"p":6,"b":13,"x":0,"f":0.3},{"p":6,"b":13,"x":0.5,"f":0.38},{"p":6,"b":13,"x":1,"f":0.43},{"p":6,"b":13,"x":1.5,"f":0.42},{"p":6,"b":13,"x":2,"f":0.39},{"p":6,"b":13,"x":2.5,"f":0.39},{"p":6,"b":13,"x":3,"f":0.4},{"p":6,"b":13,"x":3.5,"f":0.37},{"p":6,"b":13,"x":4,"f":0.33},
{"p":6,"b":14,"x":0,"f":0.33},{"p":6,"b":14,"x":0.5,"f":0.32},{"p":6,"b":14,"x":1,"f":0.32},{"p":6,"b":14,"x":1.5,"f":0.31},{"p":6,"b":14,"x":2,"f":0.3},{"p":6,"b":14,"x":2.5,"f":0.32},{"p":6,"b":14,"x":3,"f":0.34},{"p":6,"b":14,"x":3.5,"f":0.33},{"p":6,"b":14,"x":4,"f":0.31},
{"p":6,"b":15,"x":0,"f":0.25},{"p":6,"b":15,"x":0.5,"f":0.27},{"p":6,"b":15,"x":1,"f":0.28},{"p":6,"b":15,"x":1.5,"f":0.27},{"p":6,"b":15,"x":2,"f":0.27},{"p":6,"b":15,"x":2.5,"f":0.24},{"p":6,"b":15,"x":3,"f":0.25},{"p":6,"b":15,"x":3.5,"f":0.25},{"p":6,"b":15,"x":4,"f":0.24},
{"p":6,"b":16,"x":0,"f":0.14},{"p":6,"b":16,"x":0.5,"f":0.22},{"p":6,"b":16,"x":1,"f":0.25},{"p":6,"b":16,"x":1.5,"f":0.25},{"p":6,"b":16,"x":2,"f":0.25},{"p":6,"b":16,"x":2.5,"f":0.23},{"p":6,"b":16,"x":3,"f":0.2},{"p":6,"b":16,"x":3.5,"f":0.17},{"p":6,"b":16,"x":4,"f":0.13},
{"p":6,"b":17,"x":0,"f":0},{"p":6,"b":17,"x":0.5,"f":0.15},{"p":6,"b":17,"x":1,"f":0.21},{"p":6,"b":17,"x":1.5,"f":0.23},{"p":6,"b":17,"x":2,"f":0.23},{"p":6,"b":17,"x":2.5,"f":0.22},{"p":6,"b":17,"x":3,"f":0.19},{"p":6,"b":17,"x":3.5,"f":0.1},{"p":6,"b":17,"x":4,"f":0},
{"p":6,"b":18,"x":0,"f":0},{"p":6,"b":18,"x":0.5,"f":0.09},{"p":6,"b":18,"x":1,"f":0.17},{"p":6,"b":18,"x":1.5,"f":0.2},{"p":6,"b":18,"x":2,"f":0.21},{"p":6,"b":18,"x":2.5,"f":0.2},{"p":6,"b":18,"x":3,"f":0.17},{"p":6,"b":18,"x":3.5,"f":0.06},{"p":6,"b":18,"x":4,"f":0},

{"p":7,"b":1,"x":0,"f":1.33},{"p":7,"b":1,"x":0.5,"f":1.25},{"p":7,"b":1,"x":1,"f":1.19},{"p":7,"b":1,"x":1.5,"f":1.17},{"p":7,"b":1,"x":2,"f":1.16},{"p":7,"b":1,"x":2.5,"f":1.18},{"p":7,"b":1,"x":3,"f":1.2},{"p":7,"b":1,"x":3.5,"f":1.24},{"p":7,"b":1,"x":4,"f":1.33},
{"p":7,"b":2,"x":0,"f":1.29},{"p":7,"b":2,"x":0.5,"f":1.22},{"p":7,"b":2,"x":1,"f":1.17},{"p":7,"b":2,"x":1.5,"f":1.15},{"p":7,"b":2,"x":2,"f":1.14},{"p":7,"b":2,"x":2.5,"f":1.15},{"p":7,"b":2,"x":3,"f":1.17},{"p":7,"b":2,"x":3.5,"f":1.21},{"p":7,"b":2,"x":4,"f":1.29},
{"p":7,"b":3,"x":0,"f":1.02},{"p":7,"b":3,"x":0.5,"f":1.06},{"p":7,"b":3,"x":1,"f":1.04},{"p":7,"b":3,"x":1.5,"f":1.03},{"p":7,"b":3,"x":2,"f":1.02},{"p":7,"b":3,"x":2.5,"f":1.05},{"p":7,"b":3,"x":3,"f":1.09},{"p":7,"b":3,"x":3.5,"f":1.11},{"p":7,"b":3,"x":4,"f":1.03},
{"p":7,"b":4,"x":0,"f":1.01},{"p":7,"b":4,"x":0.5,"f":1.02},{"p":7,"b":4,"x":1,"f":1.03},{"p":7,"b":4,"x":1.5,"f":1.02},{"p":7,"b":4,"x":2,"f":1.02},{"p":7,"b":4,"x":2.5,"f":1.03},{"p":7,"b":4,"x":3,"f":1.05},{"p":7,"b":4,"x":3.5,"f":1.06},{"p":7,"b":4,"x":4,"f":1.02},
{"p":7,"b":5,"x":0,"f":0.7},{"p":7,"b":5,"x":0.25,"f":0.88},{"p":7,"b":5,"x":0.5,"f":0.95},{"p":7,"b":5,"x":0.75,"f":0.88},{"p":7,"b":5,"x":1,"f":0.8},{"p":7,"b":5,"x":1.5,"f":0.8},{"p":7,"b":5,"x":2,"f":0.79},{"p":7,"b":5,"x":2.5,"f":0.8},{"p":7,"b":5,"x":3,"f":0.82},{"p":7,"b":5,"x":3.5,"f":0.84},{"p":7,"b":5,"x":4,"f":0.83},
{"p":7,"b":6,"x":0,"f":0.85},{"p":7,"b":6,"x":0.5,"f":0.84},{"p":7,"b":6,"x":1,"f":0.82},{"p":7,"b":6,"x":1.5,"f":0.81},{"p":7,"b":6,"x":2,"f":0.8},{"p":7,"b":6,"x":2.5,"f":0.81},{"p":7,"b":6,"x":3,"f":0.83},{"p":7,"b":6,"x":3.5,"f":0.85},{"p":7,"b":6,"x":4,"f":0.85},
{"p":7,"b":7,"x":0,"f":0.83},{"p":7,"b":7,"x":0.5,"f":0.82},{"p":7,"b":7,"x":1,"f":0.8},{"p":7,"b":7,"x":1.5,"f":0.8},{"p":7,"b":7,"x":2,"f":0.79},{"p":7,"b":7,"x":2.5,"f":0.8},{"p":7,"b":7,"x":3,"f":0.82},{"p":7,"b":7,"x":3.5,"f":0.83},{"p":7,"b":7,"x":4,"f":0.82},
{"p":7,"b":8,"x":0,"f":0.76},{"p":7,"b":8,"x":0.5,"f":0.76},{"p":7,"b":8,"x":1,"f":0.76},{"p":7,"b":8,"x":1.5,"f":0.7},{"p":7,"b":8,"x":2,"f":0.62},{"p":7,"b":8,"x":2.5,"f":0.7},{"p":7,"b":8,"x":3,"f":0.76},{"p":7,"b":8,"x":3.5,"f":0.77},{"p":7,"b":8,"x":4,"f":0.74},
{"p":7,"b":9,"x":0,"f":0.74},{"p":7,"b":9,"x":0.5,"f":0.74},{"p":7,"b":9,"x":1,"f":0.74},{"p":7,"b":9,"x":1.5,"f":0.69},{"p":7,"b":9,"x":2,"f":0.6},{"p":7,"b":9,"x":2.5,"f":0.69},{"p":7,"b":9,"x":3,"f":0.74},{"p":7,"b":9,"x":3.5,"f":0.74},{"p":7,"b":9,"x":4,"f":0.66},
{"p":7,"b":10,"x":0,"f":0.58},{"p":7,"b":10,"x":0.5,"f":0.72},{"p":7,"b":10,"x":1,"f":0.73},{"p":7,"b":10,"x":1.5,"f":0.68},{"p":7,"b":10,"x":2,"f":0.61},{"p":7,"b":10,"x":2.5,"f":0.67},{"p":7,"b":10,"x":3,"f":0.72},{"p":7,"b":10,"x":3.5,"f":0.7},{"p":7,"b":10,"x":4,"f":0.58},
{"p":7,"b":11,"x":0,"f":0.39},{"p":7,"b":11,"x":0.5,"f":0.45},{"p":7,"b":11,"x":1,"f":0.46},{"p":7,"b":11,"x":1.5,"f":0.45},{"p":7,"b":11,"x":2,"f":0.43},{"p":7,"b":11,"x":2.5,"f":0.44},{"p":7,"b":11,"x":3,"f":0.45},{"p":7,"b":11,"x":3.5,"f":0.43},{"p":7,"b":11,"x":4,"f":0.4},
{"p":7,"b":12,"x":0,"f":0.37},{"p":7,"b":12,"x":0.5,"f":0.42},{"p":7,"b":12,"x":1,"f":0.44},{"p":7,"b":12,"x":1.5,"f":0.43},{"p":7,"b":12,"x":2,"f":0.41},{"p":7,"b":12,"x":2.5,"f":0.42},{"p":7,"b":12,"x":3,"f":0.43},{"p":7,"b":12,"x":3.5,"f":0.41},{"p":7,"b":12,"x":4,"f":0.38},
{"p":7,"b":13,"x":0,"f":0.3},{"p":7,"b":13,"x":0.5,"f":0.36},{"p":7,"b":13,"x":1,"f":0.4},{"p":7,"b":13,"x":1.5,"f":0.4},{"p":7,"b":13,"x":2,"f":0.38},{"p":7,"b":13,"x":2.5,"f":0.38},{"p":7,"b":13,"x":3,"f":0.39},{"p":7,"b":13,"x":3.5,"f":0.36},{"p":7,"b":13,"x":4,"f":0.33},
{"p":7,"b":14,"x":0,"f":0.34},{"p":7,"b":14,"x":0.5,"f":0.33},{"p":7,"b":14,"x":1,"f":0.33},{"p":7,"b":14,"x":1.5,"f":0.32},{"p":7,"b":14,"x":2,"f":0.31},{"p":7,"b":14,"x":2.5,"f":0.31},{"p":7,"b":14,"x":3,"f":0.33},{"p":7,"b":14,"x":3.5,"f":0.33},{"p":7,"b":14,"x":4,"f":0.31},
{"p":7,"b":15,"x":0,"f":0.25},{"p":7,"b":15,"x":0.5,"f":0.27},{"p":7,"b":15,"x":1,"f":0.28},{"p":7,"b":15,"x":1.5,"f":0.28},{"p":7,"b":15,"x":2,"f":0.27},{"p":7,"b":15,"x":2.5,"f":0.24},{"p":7,"b":15,"x":3,"f":0.24},{"p":7,"b":15,"x":3.5,"f":0.24},{"p":7,"b":15,"x":4,"f":0.24},
{"p":7,"b":16,"x":0,"f":0.15},{"p":7,"b":16,"x":0.5,"f":0.22},{"p":7,"b":16,"x":1,"f":0.25},{"p":7,"b":16,"x":1.5,"f":0.26},{"p":7,"b":16,"x":2,"f":0.25},{"p":7,"b":16,"x":2.5,"f":0.22},{"p":7,"b":16,"x":3,"f":0.19},{"p":7,"b":16,"x":3.5,"f":0.16},{"p":7,"b":16,"x":4,"f":0.13},
{"p":7,"b":17,"x":0,"f":0},{"p":7,"b":17,"x":0.5,"f":0.15},{"p":7,"b":17,"x":1,"f":0.21},{"p":7,"b":17,"x":1.5,"f":0.23},{"p":7,"b":17,"x":2,"f":0.23},{"p":7,"b":17,"x":2.5,"f":0.21},{"p":7,"b":17,"x":3,"f":0.18},{"p":7,"b":17,"x":3.5,"f":0.1},{"p":7,"b":17,"x":4,"f":0},
{"p":7,"b":18,"x":0,"f":0},{"p":7,"b":18,"x":0.5,"f":0.09},{"p":7,"b":18,"x":1,"f":0.17},{"p":7,"b":18,"x":1.5,"f":0.2},{"p":7,"b":18,"x":2,"f":0.21},{"p":7,"b":18,"x":2.5,"f":0.19},{"p":7,"b":18,"x":3,"f":0.16},{"p":7,"b":18,"x":3.5,"f":0.06},{"p":7,"b":18,"x":4,"f":0},

{"p":8,"b":1,"x":0,"f":1.34},{"p":8,"b":1,"x":0.5,"f":1.26},{"p":8,"b":1,"x":1,"f":1.19},{"p":8,"b":1,"x":1.5,"f":1.17},{"p":8,"b":1,"x":2,"f":1.17},{"p":8,"b":1,"x":2.5,"f":1.18},{"p":8,"b":1,"x":3,"f":1.21},{"p":8,"b":1,"x":3.5,"f":1.25},{"p":8,"b":1,"x":4,"f":1.34},
{"p":8,"b":2,"x":0,"f":1.3},{"p":8,"b":2,"x":0.5,"f":1.23},{"p":8,"b":2,"x":1,"f":1.17},{"p":8,"b":2,"x":1.5,"f":1.15},{"p":8,"b":2,"x":2,"f":1.15},{"p":8,"b":2,"x":2.5,"f":1.16},{"p":8,"b":2,"x":3,"f":1.18},{"p":8,"b":2,"x":3.5,"f":1.22},{"p":8,"b":2,"x":4,"f":1.3},
{"p":8,"b":3,"x":0,"f":1.04},{"p":8,"b":3,"x":0.5,"f":1.04},{"p":8,"b":3,"x":1,"f":1.04},{"p":8,"b":3,"x":1.5,"f":1.03},{"p":8,"b":3,"x":2,"f":1.02},{"p":8,"b":3,"x":2.5,"f":1.04},{"p":8,"b":3,"x":3,"f":1.07},{"p":8,"b":3,"x":3.5,"f":1.09},{"p":8,"b":3,"x":4,"f":1.1},
{"p":8,"b":4,"x":0,"f":1.02},{"p":8,"b":4,"x":0.5,"f":1.02},{"p":8,"b":4,"x":1,"f":1.03},{"p":8,"b":4,"x":1.5,"f":1.02},{"p":8,"b":4,"x":2,"f":1.01},{"p":8,"b":4,"x":2.5,"f":1.02},{"p":8,"b":4,"x":3,"f":1.04},{"p":8,"b":4,"x":3.5,"f":1.05},{"p":8,"b":4,"x":4,"f":1.03},
{"p":8,"b":5,"x":0,"f":0.95},{"p":8,"b":5,"x":0.5,"f":0.9},{"p":8,"b":5,"x":1,"f":0.79},{"p":8,"b":5,"x":1.5,"f":0.78},{"p":8,"b":5,"x":2,"f":0.77},{"p":8,"b":5,"x":2.5,"f":0.79},{"p":8,"b":5,"x":3,"f":0.81},{"p":8,"b":5,"x":3.5,"f":0.82},{"p":8,"b":5,"x":4,"f":0.8},
{"p":8,"b":6,"x":0,"f":0.82},{"p":8,"b":6,"x":0.5,"f":0.8},{"p":8,"b":6,"x":1,"f":0.78},{"p":8,"b":6,"x":1.5,"f":0.78},{"p":8,"b":6,"x":2,"f":0.77},{"p":8,"b":6,"x":2.5,"f":0.79},{"p":8,"b":6,"x":3,"f":0.8},{"p":8,"b":6,"x":3.5,"f":0.81},{"p":8,"b":6,"x":4,"f":0.81},
{"p":8,"b":7,"x":0,"f":0.8},{"p":8,"b":7,"x":0.5,"f":0.78},{"p":8,"b":7,"x":1,"f":0.77},{"p":8,"b":7,"x":1.5,"f":0.77},{"p":8,"b":7,"x":2,"f":0.76},{"p":8,"b":7,"x":2.5,"f":0.78},{"p":8,"b":7,"x":3,"f":0.79},{"p":8,"b":7,"x":3.5,"f":0.8},{"p":8,"b":7,"x":4,"f":0.79},
{"p":8,"b":8,"x":0,"f":0.74},{"p":8,"b":8,"x":0.5,"f":0.73},{"p":8,"b":8,"x":1,"f":0.74},{"p":8,"b":8,"x":1.5,"f":0.68},{"p":8,"b":8,"x":2,"f":0.6},{"p":8,"b":8,"x":2.5,"f":0.67},{"p":8,"b":8,"x":3,"f":0.72},{"p":8,"b":8,"x":3.5,"f":0.73},{"p":8,"b":8,"x":4,"f":0.72},
{"p":8,"b":9,"x":0,"f":0.72},{"p":8,"b":9,"x":0.5,"f":0.71},{"p":8,"b":9,"x":1,"f":0.72},{"p":8,"b":9,"x":1.5,"f":0.66},{"p":8,"b":9,"x":2,"f":0.58},{"p":8,"b":9,"x":2.5,"f":0.65},{"p":8,"b":9,"x":3,"f":0.7},{"p":8,"b":9,"x":3.5,"f":0.7},{"p":8,"b":9,"x":4,"f":0.62},
{"p":8,"b":10,"x":0,"f":0.58},{"p":8,"b":10,"x":0.5,"f":0.68},{"p":8,"b":10,"x":1,"f":0.77},{"p":8,"b":10,"x":1.5,"f":0.66},{"p":8,"b":10,"x":2,"f":0.59},{"p":8,"b":10,"x":2.5,"f":0.64},{"p":8,"b":10,"x":3,"f":0.68},{"p":8,"b":10,"x":3.5,"f":0.67},{"p":8,"b":10,"x":4,"f":0.58},
{"p":8,"b":11,"x":0,"f":0.39},{"p":8,"b":11,"x":0.5,"f":0.42},{"p":8,"b":11,"x":1,"f":0.44},{"p":8,"b":11,"x":1.5,"f":0.44},{"p":8,"b":11,"x":2,"f":0.43},{"p":8,"b":11,"x":2.5,"f":0.42},{"p":8,"b":11,"x":3,"f":0.42},{"p":8,"b":11,"x":3.5,"f":0.4},{"p":8,"b":11,"x":4,"f":0.39},
{"p":8,"b":12,"x":0,"f":0.37},{"p":8,"b":12,"x":0.5,"f":0.4},{"p":8,"b":12,"x":1,"f":0.42},{"p":8,"b":12,"x":1.5,"f":0.42},{"p":8,"b":12,"x":2,"f":0.41},{"p":8,"b":12,"x":2.5,"f":0.4},{"p":8,"b":12,"x":3,"f":0.4},{"p":8,"b":12,"x":3.5,"f":0.38},{"p":8,"b":12,"x":4,"f":0.37},
{"p":8,"b":13,"x":0,"f":0.3},{"p":8,"b":13,"x":0.5,"f":0.34},{"p":8,"b":13,"x":1,"f":0.38},{"p":8,"b":13,"x":1.5,"f":0.39},{"p":8,"b":13,"x":2,"f":0.38},{"p":8,"b":13,"x":2.5,"f":0.37},{"p":8,"b":13,"x":3,"f":0.37},{"p":8,"b":13,"x":3.5,"f":0.35},{"p":8,"b":13,"x":4,"f":0.33},
{"p":8,"b":14,"x":0,"f":0.34},{"p":8,"b":14,"x":0.5,"f":0.33},{"p":8,"b":14,"x":1,"f":0.33},{"p":8,"b":14,"x":1.5,"f":0.33},{"p":8,"b":14,"x":2,"f":0.32},{"p":8,"b":14,"x":2.5,"f":0.3},{"p":8,"b":14,"x":3,"f":0.3},{"p":8,"b":14,"x":3.5,"f":0.3},{"p":8,"b":14,"x":4,"f":0.3},
{"p":8,"b":15,"x":0,"f":0.25},{"p":8,"b":15,"x":0.5,"f":0.27},{"p":8,"b":15,"x":1,"f":0.28},{"p":8,"b":15,"x":1.5,"f":0.28},{"p":8,"b":15,"x":2,"f":0.27},{"p":8,"b":15,"x":2.5,"f":0.23},{"p":8,"b":15,"x":3,"f":0.21},{"p":8,"b":15,"x":3.5,"f":0.21},{"p":8,"b":15,"x":4,"f":0.22},
{"p":8,"b":16,"x":0,"f":0.15},{"p":8,"b":16,"x":0.5,"f":0.21},{"p":8,"b":16,"x":1,"f":0.24},{"p":8,"b":16,"x":1.5,"f":0.25},{"p":8,"b":16,"x":2,"f":0.25},{"p":8,"b":16,"x":2.5,"f":0.2},{"p":8,"b":16,"x":3,"f":0.17},{"p":8,"b":16,"x":3.5,"f":0.15},{"p":8,"b":16,"x":4,"f":0.12},
{"p":8,"b":17,"x":0,"f":0},{"p":8,"b":17,"x":0.5,"f":0.14},{"p":8,"b":17,"x":1,"f":0.2},{"p":8,"b":17,"x":1.5,"f":0.22},{"p":8,"b":17,"x":2,"f":0.22},{"p":8,"b":17,"x":2.5,"f":0.19},{"p":8,"b":17,"x":3,"f":0.16},{"p":8,"b":17,"x":3.5,"f":0.1},{"p":8,"b":17,"x":4,"f":0},
{"p":8,"b":18,"x":0,"f":0},{"p":8,"b":18,"x":0.5,"f":0.09},{"p":8,"b":18,"x":1,"f":0.16},{"p":8,"b":18,"x":1.5,"f":0.19},{"p":8,"b":18,"x":2,"f":0.2},{"p":8,"b":18,"x":2.5,"f":0.18},{"p":8,"b":18,"x":3,"f":0.15},{"p":8,"b":18,"x":3.5,"f":0.06},{"p":8,"b":18,"x":4,"f":0},

{"p":9,"b":1,"x":0,"f":1.36},{"p":9,"b":1,"x":0.5,"f":1.28},{"p":9,"b":1,"x":1,"f":1.2},{"p":9,"b":1,"x":1.5,"f":1.18},{"p":9,"b":1,"x":2,"f":1.18},{"p":9,"b":1,"x":2.5,"f":1.19},{"p":9,"b":1,"x":3,"f":1.22},{"p":9,"b":1,"x":3.5,"f":1.27},{"p":9,"b":1,"x":4,"f":1.36},
{"p":9,"b":2,"x":0,"f":1.32},{"p":9,"b":2,"x":0.5,"f":1.25},{"p":9,"b":2,"x":1,"f":1.19},{"p":9,"b":2,"x":1.5,"f":1.17},{"p":9,"b":2,"x":2,"f":1.16},{"p":9,"b":2,"x":2.5,"f":1.17},{"p":9,"b":2,"x":3,"f":1.2},{"p":9,"b":2,"x":3.5,"f":1.24},{"p":9,"b":2,"x":4,"f":1.32},
{"p":9,"b":3,"x":0,"f":1.07},{"p":9,"b":3,"x":0.5,"f":1.06},{"p":9,"b":3,"x":1,"f":1.06},{"p":9,"b":3,"x":1.5,"f":1.05},{"p":9,"b":3,"x":2,"f":1.04},{"p":9,"b":3,"x":2.5,"f":1.06},{"p":9,"b":3,"x":3,"f":1.1},{"p":9,"b":3,"x":3.5,"f":1.11},{"p":9,"b":3,"x":4,"f":1.05},
{"p":9,"b":4,"x":0,"f":1.05},{"p":9,"b":4,"x":0.5,"f":1.05},{"p":9,"b":4,"x":1,"f":1.05},{"p":9,"b":4,"x":1.5,"f":1.04},{"p":9,"b":4,"x":2,"f":1.03},{"p":9,"b":4,"x":2.5,"f":1.05},{"p":9,"b":4,"x":3,"f":1.08},{"p":9,"b":4,"x":3.5,"f":1.09},{"p":9,"b":4,"x":4,"f":1.04},
{"p":9,"b":5,"x":0,"f":0.55},{"p":9,"b":5,"x":0.25,"f":0.8},{"p":9,"b":5,"x":0.5,"f":0.92},{"p":9,"b":5,"x":0.75,"f":0.88},{"p":9,"b":5,"x":1,"f":0.78},{"p":9,"b":5,"x":1.5,"f":0.77},{"p":9,"b":5,"x":2,"f":0.76},{"p":9,"b":5,"x":2.5,"f":0.77},{"p":9,"b":5,"x":3,"f":0.79},{"p":9,"b":5,"x":3.5,"f":0.8},{"p":9,"b":5,"x":4,"f":0.79},
{"p":9,"b":6,"x":0,"f":0.8},{"p":9,"b":6,"x":0.5,"f":0.79},{"p":9,"b":6,"x":1,"f":0.77},{"p":9,"b":6,"x":1.5,"f":0.77},{"p":9,"b":6,"x":2,"f":0.76},{"p":9,"b":6,"x":2.5,"f":0.78},{"p":9,"b":6,"x":3,"f":0.8},{"p":9,"b":6,"x":3.5,"f":0.81},{"p":9,"b":6,"x":4,"f":0.8},
{"p":9,"b":7,"x":0,"f":0.78},{"p":9,"b":7,"x":0.5,"f":0.76},{"p":9,"b":7,"x":1,"f":0.75},{"p":9,"b":7,"x":1.5,"f":0.75},{"p":9,"b":7,"x":2,"f":0.74},{"p":9,"b":7,"x":2.5,"f":0.76},{"p":9,"b":7,"x":3,"f":0.78},{"p":9,"b":7,"x":3.5,"f":0.79},{"p":9,"b":7,"x":4,"f":0.77},
{"p":9,"b":8,"x":0,"f":0.72},{"p":9,"b":8,"x":0.5,"f":0.72},{"p":9,"b":8,"x":1,"f":0.73},{"p":9,"b":8,"x":1.5,"f":0.65},{"p":9,"b":8,"x":2,"f":0.58},{"p":9,"b":8,"x":2.5,"f":0.65},{"p":9,"b":8,"x":3,"f":0.71},{"p":9,"b":8,"x":3.5,"f":0.72},{"p":9,"b":8,"x":4,"f":0.71},
{"p":9,"b":9,"x":0,"f":0.7},{"p":9,"b":9,"x":0.5,"f":0.7},{"p":9,"b":9,"x":1,"f":0.71},{"p":9,"b":9,"x":1.5,"f":0.63},{"p":9,"b":9,"x":2,"f":0.56},{"p":9,"b":9,"x":2.5,"f":0.63},{"p":9,"b":9,"x":3,"f":0.69},{"p":9,"b":9,"x":3.5,"f":0.66},{"p":9,"b":9,"x":4,"f":0.58},
{"p":9,"b":10,"x":0,"f":0.53},{"p":9,"b":10,"x":0.5,"f":0.65},{"p":9,"b":10,"x":1,"f":0.76},{"p":9,"b":10,"x":1.5,"f":0.64},{"p":9,"b":10,"x":2,"f":0.57},{"p":9,"b":10,"x":2.5,"f":0.62},{"p":9,"b":10,"x":3,"f":0.66},{"p":9,"b":10,"x":3.5,"f":0.62},{"p":9,"b":10,"x":4,"f":0.55},
{"p":9,"b":11,"x":0,"f":0.4},{"p":9,"b":11,"x":0.5,"f":0.42},{"p":9,"b":11,"x":1,"f":0.44},{"p":9,"b":11,"x":1.5,"f":0.45},{"p":9,"b":11,"x":2,"f":0.44},{"p":9,"b":11,"x":2.5,"f":0.43},{"p":9,"b":11,"x":3,"f":0.42},{"p":9,"b":11,"x":3.5,"f":0.41},{"p":9,"b":11,"x":4,"f":0.4},
{"p":9,"b":12,"x":0,"f":0.37},{"p":9,"b":12,"x":0.5,"f":0.39},{"p":9,"b":12,"x":1,"f":0.41},{"p":9,"b":12,"x":1.5,"f":0.42},{"p":9,"b":12,"x":2,"f":0.41},{"p":9,"b":12,"x":2.5,"f":0.4},{"p":9,"b":12,"x":3,"f":0.39},{"p":9,"b":12,"x":3.5,"f":0.38},{"p":9,"b":12,"x":4,"f":0.37},
{"p":9,"b":13,"x":0,"f":0.31},{"p":9,"b":13,"x":0.5,"f":0.35},{"p":9,"b":13,"x":1,"f":0.38},{"p":9,"b":13,"x":1.5,"f":0.4},{"p":9,"b":13,"x":2,"f":0.39},{"p":9,"b":13,"x":2.5,"f":0.37},{"p":9,"b":13,"x":3,"f":0.35},{"p":9,"b":13,"x":3.5,"f":0.33},{"p":9,"b":13,"x":4,"f":0.32},
{"p":9,"b":14,"x":0,"f":0.34},{"p":9,"b":14,"x":0.5,"f":0.33},{"p":9,"b":14,"x":1,"f":0.33},{"p":9,"b":14,"x":1.5,"f":0.33},{"p":9,"b":14,"x":2,"f":0.33},{"p":9,"b":14,"x":2.5,"f":0.3},{"p":9,"b":14,"x":3,"f":0.28},{"p":9,"b":14,"x":3.5,"f":0.27},{"p":9,"b":14,"x":4,"f":0.28},
{"p":9,"b":15,"x":0,"f":0.26},{"p":9,"b":15,"x":0.5,"f":0.27},{"p":9,"b":15,"x":1,"f":0.28},{"p":9,"b":15,"x":1.5,"f":0.29},{"p":9,"b":15,"x":2,"f":0.28},{"p":9,"b":15,"x":2.5,"f":0.23},{"p":9,"b":15,"x":3,"f":0.19},{"p":9,"b":15,"x":3.5,"f":0.18},{"p":9,"b":15,"x":4,"f":0.21},
{"p":9,"b":16,"x":0,"f":0.15},{"p":9,"b":16,"x":0.5,"f":0.21},{"p":9,"b":16,"x":1,"f":0.25},{"p":9,"b":16,"x":1.5,"f":0.26},{"p":9,"b":16,"x":2,"f":0.26},{"p":9,"b":16,"x":2.5,"f":0.2},{"p":9,"b":16,"x":3,"f":0.15},{"p":9,"b":16,"x":3.5,"f":0.12},{"p":9,"b":16,"x":4,"f":0.12},
{"p":9,"b":17,"x":0,"f":0},{"p":9,"b":17,"x":0.5,"f":0.14},{"p":9,"b":17,"x":1,"f":0.2},{"p":9,"b":17,"x":1.5,"f":0.23},{"p":9,"b":17,"x":2,"f":0.23},{"p":9,"b":17,"x":2.5,"f":0.18},{"p":9,"b":17,"x":3,"f":0.13},{"p":9,"b":17,"x":3.5,"f":0.08},{"p":9,"b":17,"x":4,"f":0},
{"p":9,"b":18,"x":0,"f":0},{"p":9,"b":18,"x":0.5,"f":0.09},{"p":9,"b":18,"x":1,"f":0.16},{"p":9,"b":18,"x":1.5,"f":0.2},{"p":9,"b":18,"x":2,"f":0.21},{"p":9,"b":18,"x":2.5,"f":0.16},{"p":9,"b":18,"x":3,"f":0.1},{"p":9,"b":18,"x":3.1,"f":-0.03},{"p":9,"b":18,"x":3.3,"f":-0.08},{"p":9,"b":18,"x":3.5,"f":-0.07},{"p":9,"b":18,"x":3.7,"f":-0.03},{"p":9,"b":18,"x":3.9,"f":0},{"p":9,"b":18,"x":4,"f":0}
]},
"spacing":6,
"vconcat":[
{"hconcat":[
 {"width":158,"height":128,"layer":[
  {"data":{"name":"d"},"transform":[{"filter":"datum.p==1"}],"mark":{"type":"line","interpolate":"monotone","color":"#ff0000","strokeWidth":1.3},
   "encoding":{"x":{"field":"x","type":"quantitative","scale":{"domain":[0,4],"nice":false},"axis":{"title":null,"labels":false,"tickCount":100,"values":[0,0.1667,0.3333,0.5,0.6667,0.8333,1,1.1667,1.3333,1.5,1.6667,1.8333,2,2.1667,2.3333,2.5,2.6667,2.8333,3,3.1667,3.3333,3.5,3.6667,3.8333,4],"tickSize":{"condition":{"test":"datum.value%1==0","value":4},"value":2}}},
   "y":{"field":"f","type":"quantitative","scale":{"domain":[-0.16,1.415],"nice":false,"zero":false},"axis":{"title":"Frequency (THz)","tickCount":100,"labelOverlap":false,"values":[0,0.32,0.64,0.96,1.28],"format":".2f","titlePadding":3}},
   "detail":{"field":"b"}}},
  {"data":{"values":[{}]},"mark":{"type":"rule","color":"#2a3bd8","strokeDash":[4,3],"strokeWidth":1.5},"encoding":{"y":{"datum":0}}},
  {"data":{"values":[{}]},"mark":{"type":"point","shape":"M-1,-0.5L1,-0.5L1,0.5L-1,0.5Z","size":484,"filled":true,"fill":"white","stroke":"#999","strokeWidth":1,"opacity":1,"xOffset":-11,"yOffset":6},"encoding":{"x":{"datum":4},"y":{"datum":1.415}}},
  {"data":{"values":[{}]},"mark":{"type":"text","text":"-6%","font":"Liberation Serif","fontWeight":"bold","fontSize":12,"align":"center","baseline":"middle","dx":-11,"dy":6,"color":"#000"},"encoding":{"x":{"datum":4},"y":{"datum":1.415}}}
 ]},
 {"width":158,"height":128,"layer":[
  {"data":{"name":"d"},"transform":[{"filter":"datum.p==2"}],"mark":{"type":"line","interpolate":"monotone","color":"#ff0000","strokeWidth":1.3},
   "encoding":{"x":{"field":"x","type":"quantitative","scale":{"domain":[0,4],"nice":false},"axis":{"title":null,"labels":false,"tickCount":100,"values":[0,0.1667,0.3333,0.5,0.6667,0.8333,1,1.1667,1.3333,1.5,1.6667,1.8333,2,2.1667,2.3333,2.5,2.6667,2.8333,3,3.1667,3.3333,3.5,3.6667,3.8333,4],"tickSize":{"condition":{"test":"datum.value%1==0","value":4},"value":2}}},
   "y":{"field":"f","type":"quantitative","scale":{"domain":[-0.154,1.366],"nice":false,"zero":false},"axis":{"title":null,"tickCount":100,"labelOverlap":false,"values":[0,0.3,0.6,0.9,1.2],"format":".1f"}},
   "detail":{"field":"b"}}},
  {"data":{"values":[{}]},"mark":{"type":"rule","color":"#2a3bd8","strokeDash":[4,3],"strokeWidth":1.5},"encoding":{"y":{"datum":0}}},
  {"data":{"values":[{}]},"mark":{"type":"point","shape":"M-1,-0.5L1,-0.5L1,0.5L-1,0.5Z","size":484,"filled":true,"fill":"white","stroke":"#999","strokeWidth":1,"opacity":1,"xOffset":-11,"yOffset":6},"encoding":{"x":{"datum":4},"y":{"datum":1.366}}},
  {"data":{"values":[{}]},"mark":{"type":"text","text":"-4%","font":"Liberation Serif","fontWeight":"bold","fontSize":12,"align":"center","baseline":"middle","dx":-11,"dy":6,"color":"#000"},"encoding":{"x":{"datum":4},"y":{"datum":1.366}}}
 ]},
 {"width":158,"height":128,"layer":[
  {"data":{"name":"d"},"transform":[{"filter":"datum.p==3"}],"mark":{"type":"line","interpolate":"monotone","color":"#ff0000","strokeWidth":1.3},
   "encoding":{"x":{"field":"x","type":"quantitative","scale":{"domain":[0,4],"nice":false},"axis":{"title":null,"labels":false,"tickCount":100,"values":[0,0.1667,0.3333,0.5,0.6667,0.8333,1,1.1667,1.3333,1.5,1.6667,1.8333,2,2.1667,2.3333,2.5,2.6667,2.8333,3,3.1667,3.3333,3.5,3.6667,3.8333,4],"tickSize":{"condition":{"test":"datum.value%1==0","value":4},"value":2}}},
   "y":{"field":"f","type":"quantitative","scale":{"domain":[-0.154,1.366],"nice":false,"zero":false},"axis":{"title":null,"tickCount":100,"labelOverlap":false,"values":[0,0.3,0.6,0.9,1.2],"format":".1f"}},
   "detail":{"field":"b"}}},
  {"data":{"values":[{}]},"mark":{"type":"rule","color":"#2a3bd8","strokeDash":[4,3],"strokeWidth":1.5},"encoding":{"y":{"datum":0}}},
  {"data":{"values":[{}]},"mark":{"type":"point","shape":"M-1,-0.5L1,-0.5L1,0.5L-1,0.5Z","size":484,"filled":true,"fill":"white","stroke":"#999","strokeWidth":1,"opacity":1,"xOffset":-11,"yOffset":6},"encoding":{"x":{"datum":4},"y":{"datum":1.366}}},
  {"data":{"values":[{}]},"mark":{"type":"text","text":"-2%","font":"Liberation Serif","fontWeight":"bold","fontSize":12,"align":"center","baseline":"middle","dx":-11,"dy":6,"color":"#000"},"encoding":{"x":{"datum":4},"y":{"datum":1.366}}}
 ]}
],"spacing":34,"bounds":"flush"},
{"hconcat":[
 {"width":158,"height":128,"layer":[
  {"data":{"name":"d"},"transform":[{"filter":"datum.p==4"}],"mark":{"type":"line","interpolate":"monotone","color":"#ff0000","strokeWidth":1.3},
   "encoding":{"x":{"field":"x","type":"quantitative","scale":{"domain":[0,4],"nice":false},"axis":{"title":null,"labels":false,"tickCount":100,"values":[0,0.1667,0.3333,0.5,0.6667,0.8333,1,1.1667,1.3333,1.5,1.6667,1.8333,2,2.1667,2.3333,2.5,2.6667,2.8333,3,3.1667,3.3333,3.5,3.6667,3.8333,4],"tickSize":{"condition":{"test":"datum.value%1==0","value":4},"value":2}}},
   "y":{"field":"f","type":"quantitative","scale":{"domain":[-0.18,1.365],"nice":false,"zero":false},"axis":{"title":"Frequency (THz)","tickCount":100,"labelOverlap":false,"values":[0,0.39,0.78,1.17],"format":".2f","titlePadding":3}},
   "detail":{"field":"b"}}},
  {"data":{"values":[{}]},"mark":{"type":"rule","color":"#2a3bd8","strokeDash":[4,3],"strokeWidth":1.5},"encoding":{"y":{"datum":0}}},
  {"data":{"values":[{}]},"mark":{"type":"point","shape":"M-1,-0.65L1,-0.65L1,0.65L-1,0.65Z","size":289,"filled":true,"fill":"white","stroke":"#999","strokeWidth":1,"opacity":1,"xOffset":-8.5,"yOffset":6},"encoding":{"x":{"datum":4},"y":{"datum":1.365}}},
  {"data":{"values":[{}]},"mark":{"type":"text","text":"0%","font":"Liberation Serif","fontWeight":"bold","fontSize":12,"align":"center","baseline":"middle","dx":-8.5,"dy":6,"color":"#000"},"encoding":{"x":{"datum":4},"y":{"datum":1.365}}}
 ]},
 {"width":158,"height":128,"layer":[
  {"data":{"name":"d"},"transform":[{"filter":"datum.p==5"}],"mark":{"type":"line","interpolate":"monotone","color":"#ff0000","strokeWidth":1.3},
   "encoding":{"x":{"field":"x","type":"quantitative","scale":{"domain":[0,4],"nice":false},"axis":{"title":null,"labels":false,"tickCount":100,"values":[0,0.1667,0.3333,0.5,0.6667,0.8333,1,1.1667,1.3333,1.5,1.6667,1.8333,2,2.1667,2.3333,2.5,2.6667,2.8333,3,3.1667,3.3333,3.5,3.6667,3.8333,4],"tickSize":{"condition":{"test":"datum.value%1==0","value":4},"value":2}}},
   "y":{"field":"f","type":"quantitative","scale":{"domain":[-0.15,1.43],"nice":false,"zero":false},"axis":{"title":null,"tickCount":100,"labelOverlap":false,"values":[0,0.32,0.64,0.96,1.28],"format":".2f"}},
   "detail":{"field":"b"}}},
  {"data":{"values":[{}]},"mark":{"type":"rule","color":"#2a3bd8","strokeDash":[4,3],"strokeWidth":1.5},"encoding":{"y":{"datum":0}}},
  {"data":{"values":[{}]},"mark":{"type":"point","shape":"M-1,-0.65L1,-0.65L1,0.65L-1,0.65Z","size":289,"filled":true,"fill":"white","stroke":"#999","strokeWidth":1,"opacity":1,"xOffset":-8.5,"yOffset":6},"encoding":{"x":{"datum":4},"y":{"datum":1.43}}},
  {"data":{"values":[{}]},"mark":{"type":"text","text":"2%","font":"Liberation Serif","fontWeight":"bold","fontSize":12,"align":"center","baseline":"middle","dx":-8.5,"dy":6,"color":"#000"},"encoding":{"x":{"datum":4},"y":{"datum":1.43}}}
 ]},
 {"width":158,"height":128,"layer":[
  {"data":{"name":"d"},"transform":[{"filter":"datum.p==6"}],"mark":{"type":"line","interpolate":"monotone","color":"#ff0000","strokeWidth":1.3},
   "encoding":{"x":{"field":"x","type":"quantitative","scale":{"domain":[0,4],"nice":false},"axis":{"title":null,"labels":false,"tickCount":100,"values":[0,0.1667,0.3333,0.5,0.6667,0.8333,1,1.1667,1.3333,1.5,1.6667,1.8333,2,2.1667,2.3333,2.5,2.6667,2.8333,3,3.1667,3.3333,3.5,3.6667,3.8333,4],"tickSize":{"condition":{"test":"datum.value%1==0","value":4},"value":2}}},
   "y":{"field":"f","type":"quantitative","scale":{"domain":[-0.14,1.47],"nice":false,"zero":false},"axis":{"title":null,"tickCount":100,"labelOverlap":false,"values":[0,0.33,0.66,0.99,1.32],"format":".2f"}},
   "detail":{"field":"b"}}},
  {"data":{"values":[{}]},"mark":{"type":"rule","color":"#2a3bd8","strokeDash":[4,3],"strokeWidth":1.5},"encoding":{"y":{"datum":0}}},
  {"data":{"values":[{}]},"mark":{"type":"point","shape":"M-1,-0.65L1,-0.65L1,0.65L-1,0.65Z","size":289,"filled":true,"fill":"white","stroke":"#999","strokeWidth":1,"opacity":1,"xOffset":-8.5,"yOffset":6},"encoding":{"x":{"datum":4},"y":{"datum":1.47}}},
  {"data":{"values":[{}]},"mark":{"type":"text","text":"4%","font":"Liberation Serif","fontWeight":"bold","fontSize":12,"align":"center","baseline":"middle","dx":-8.5,"dy":6,"color":"#000"},"encoding":{"x":{"datum":4},"y":{"datum":1.47}}}
 ]}
],"spacing":34,"bounds":"flush"},
{"hconcat":[
 {"width":158,"height":128,"layer":[
  {"data":{"name":"d"},"transform":[{"filter":"datum.p==7"}],"mark":{"type":"line","interpolate":"monotone","color":"#ff0000","strokeWidth":1.3},
   "encoding":{"x":{"field":"x","type":"quantitative","scale":{"domain":[0,4],"nice":false},"axis":{"title":"K-point path","tickCount":100,"titlePadding":6,"labelOverlap":false,"labelFlush":false,"labelFontSize":14,"labelPadding":3,"labelFont":{"condition":{"test":"datum.value==0||datum.value==4","value":"Liberation Serif"},"value":"Liberation Sans"},"labelExpr":"datum.value==0||datum.value==4?'Γ':datum.value==1?'X':datum.value==2?'S':datum.value==3?'Y':''","values":[0,0.1667,0.3333,0.5,0.6667,0.8333,1,1.1667,1.3333,1.5,1.6667,1.8333,2,2.1667,2.3333,2.5,2.6667,2.8333,3,3.1667,3.3333,3.5,3.6667,3.8333,4],"tickSize":{"condition":{"test":"datum.value%1==0","value":4},"value":2}}},
   "y":{"field":"f","type":"quantitative","scale":{"domain":[-0.167,1.487],"nice":false,"zero":false},"axis":{"title":"Frequency (THz)","tickCount":100,"labelOverlap":false,"values":[0,0.33,0.66,0.99,1.32],"format":".2f","titlePadding":3}},
   "detail":{"field":"b"}}},
  {"data":{"values":[{}]},"mark":{"type":"rule","color":"#2a3bd8","strokeDash":[4,3],"strokeWidth":1.5},"encoding":{"y":{"datum":0}}},
  {"data":{"values":[{}]},"mark":{"type":"point","shape":"M-1,-0.65L1,-0.65L1,0.65L-1,0.65Z","size":289,"filled":true,"fill":"white","stroke":"#999","strokeWidth":1,"opacity":1,"xOffset":-8.5,"yOffset":6},"encoding":{"x":{"datum":4},"y":{"datum":1.487}}},
  {"data":{"values":[{}]},"mark":{"type":"text","text":"6%","font":"Liberation Serif","fontWeight":"bold","fontSize":12,"align":"center","baseline":"middle","dx":-8.5,"dy":6,"color":"#000"},"encoding":{"x":{"datum":4},"y":{"datum":1.487}}}
 ]},
 {"width":158,"height":128,"layer":[
  {"data":{"name":"d"},"transform":[{"filter":"datum.p==8"}],"mark":{"type":"line","interpolate":"monotone","color":"#ff0000","strokeWidth":1.3},
   "encoding":{"x":{"field":"x","type":"quantitative","scale":{"domain":[0,4],"nice":false},"axis":{"title":"K-point path","tickCount":100,"titlePadding":6,"labelOverlap":false,"labelFlush":false,"labelFontSize":14,"labelPadding":3,"labelFont":{"condition":{"test":"datum.value==0||datum.value==4","value":"Liberation Serif"},"value":"Liberation Sans"},"labelExpr":"datum.value==0||datum.value==4?'Γ':datum.value==1?'X':datum.value==2?'S':datum.value==3?'Y':''","values":[0,0.1667,0.3333,0.5,0.6667,0.8333,1,1.1667,1.3333,1.5,1.6667,1.8333,2,2.1667,2.3333,2.5,2.6667,2.8333,3,3.1667,3.3333,3.5,3.6667,3.8333,4],"tickSize":{"condition":{"test":"datum.value%1==0","value":4},"value":2}}},
   "y":{"field":"f","type":"quantitative","scale":{"domain":[-0.167,1.487],"nice":false,"zero":false},"axis":{"title":null,"tickCount":100,"labelOverlap":false,"values":[0,0.33,0.66,0.99,1.32],"format":".2f"}},
   "detail":{"field":"b"}}},
  {"data":{"values":[{}]},"mark":{"type":"rule","color":"#2a3bd8","strokeDash":[4,3],"strokeWidth":1.5},"encoding":{"y":{"datum":0}}},
  {"data":{"values":[{}]},"mark":{"type":"point","shape":"M-1,-0.65L1,-0.65L1,0.65L-1,0.65Z","size":289,"filled":true,"fill":"white","stroke":"#999","strokeWidth":1,"opacity":1,"xOffset":-8.5,"yOffset":6},"encoding":{"x":{"datum":4},"y":{"datum":1.487}}},
  {"data":{"values":[{}]},"mark":{"type":"text","text":"8%","font":"Liberation Serif","fontWeight":"bold","fontSize":12,"align":"center","baseline":"middle","dx":-8.5,"dy":6,"color":"#000"},"encoding":{"x":{"datum":4},"y":{"datum":1.487}}}
 ]},
 {"width":158,"height":128,"layer":[
  {"data":{"name":"d"},"transform":[{"filter":"datum.p==9"}],"mark":{"type":"line","interpolate":"monotone","color":"#ff0000","strokeWidth":1.3},
   "encoding":{"x":{"field":"x","type":"quantitative","scale":{"domain":[0,4],"nice":false},"axis":{"title":"K-point path","tickCount":100,"titlePadding":6,"labelOverlap":false,"labelFlush":false,"labelFontSize":14,"labelPadding":3,"labelFont":{"condition":{"test":"datum.value==0||datum.value==4","value":"Liberation Serif"},"value":"Liberation Sans"},"labelExpr":"datum.value==0||datum.value==4?'Γ':datum.value==1?'X':datum.value==2?'S':datum.value==3?'Y':''","values":[0,0.1667,0.3333,0.5,0.6667,0.8333,1,1.1667,1.3333,1.5,1.6667,1.8333,2,2.1667,2.3333,2.5,2.6667,2.8333,3,3.1667,3.3333,3.5,3.6667,3.8333,4],"tickSize":{"condition":{"test":"datum.value%1==0","value":4},"value":2}}},
   "y":{"field":"f","type":"quantitative","scale":{"domain":[-0.25,1.537],"nice":false,"zero":false},"axis":{"title":null,"tickCount":100,"labelOverlap":false,"values":[0,0.36,0.72,1.08,1.44],"format":".2f"}},
   "detail":{"field":"b"}}},
  {"data":{"values":[{}]},"mark":{"type":"rule","color":"#2a3bd8","strokeDash":[4,3],"strokeWidth":1.5},"encoding":{"y":{"datum":0}}},
  {"data":{"values":[{}]},"mark":{"type":"point","shape":"M-1,-0.5L1,-0.5L1,0.5L-1,0.5Z","size":484,"filled":true,"fill":"white","stroke":"#999","strokeWidth":1,"opacity":1,"xOffset":-11,"yOffset":6},"encoding":{"x":{"datum":4},"y":{"datum":1.537}}},
  {"data":{"values":[{}]},"mark":{"type":"text","text":"10%","font":"Liberation Serif","fontWeight":"bold","fontSize":12,"align":"center","baseline":"middle","dx":-11,"dy":6,"color":"#000"},"encoding":{"x":{"datum":4},"y":{"datum":1.537}}}
 ]}
],"spacing":34,"bounds":"flush"}
]
}
